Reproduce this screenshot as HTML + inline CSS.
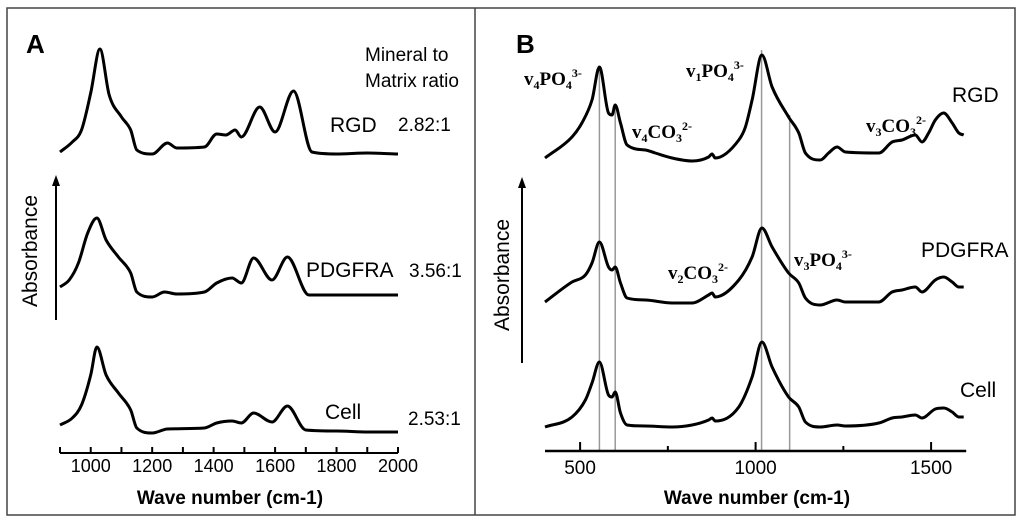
<!DOCTYPE html>
<html><head><meta charset="utf-8"><style>
body{margin:0;background:#fff;}
svg{display:block;font-family:"Liberation Sans",Arial,sans-serif;}
.ann{font-family:"Liberation Serif",serif;font-weight:bold;font-size:19px;}
</style></head><body>
<svg id="c" width="1024" height="527" viewBox="0 0 1024 527">
<rect x="7" y="8" width="1008" height="507" fill="none" stroke="#444" stroke-width="1.5"/>
<line x1="475" y1="8" x2="475" y2="515" stroke="#444" stroke-width="1.5"/>
<g id="gA">
<text x="26" y="53" font-size="26" font-weight="bold">A</text>
<text x="365" y="61" font-size="19">Mineral to</text>
<text x="365" y="87" font-size="19">Matrix ratio</text>
<text x="330" y="132" font-size="21">RGD</text>
<text x="398" y="131" font-size="19">2.82:1</text>
<text x="306" y="277" font-size="21">PDGFRA</text>
<text x="409" y="277" font-size="19">3.56:1</text>
<text x="325" y="419" font-size="21">Cell</text>
<text x="408" y="425" font-size="19">2.53:1</text>
<text transform="translate(37,251) rotate(-90)" text-anchor="middle" font-size="21">Absorbance</text>
<line x1="56" y1="320" x2="56" y2="184" stroke="#000" stroke-width="2"/>
<polygon points="56,175 52,186 60,186" fill="#000"/>
<text x="230" y="504" text-anchor="middle" font-size="19" font-weight="bold">Wave number (cm-1)</text>
</g>
<g id="gB">
<text x="516" y="53" font-size="26" font-weight="bold">B</text>
<text x="952" y="102" font-size="21">RGD</text>
<text x="921" y="257" font-size="21">PDGFRA</text>
<text x="960" y="397" font-size="21">Cell</text>
<text class="ann" x="524" y="85">v<tspan font-size="12" dy="4">4</tspan><tspan dy="-4">PO</tspan><tspan font-size="12" dy="4">4</tspan><tspan font-size="12" dy="-12">3-</tspan></text>
<text class="ann" x="686" y="77">v<tspan font-size="12" dy="4">1</tspan><tspan dy="-4">PO</tspan><tspan font-size="12" dy="4">4</tspan><tspan font-size="12" dy="-12">3-</tspan></text>
<text class="ann" x="632" y="138">v<tspan font-size="12" dy="4">4</tspan><tspan dy="-4">CO</tspan><tspan font-size="12" dy="4">3</tspan><tspan font-size="12" dy="-12">2-</tspan></text>
<text class="ann" x="866" y="132">v<tspan font-size="12" dy="4">3</tspan><tspan dy="-4">CO</tspan><tspan font-size="12" dy="4">3</tspan><tspan font-size="12" dy="-12">2-</tspan></text>
<text class="ann" x="668" y="279">v<tspan font-size="12" dy="4">2</tspan><tspan dy="-4">CO</tspan><tspan font-size="12" dy="4">3</tspan><tspan font-size="12" dy="-12">2-</tspan></text>
<text class="ann" x="794" y="266">v<tspan font-size="12" dy="4">3</tspan><tspan dy="-4">PO</tspan><tspan font-size="12" dy="4">4</tspan><tspan font-size="12" dy="-12">3-</tspan></text>
<text transform="translate(509,275) rotate(-90)" text-anchor="middle" font-size="21">Absorbance</text>
<line x1="522" y1="363" x2="522" y2="186" stroke="#000" stroke-width="2"/>
<polygon points="522,177 518,188 526,188" fill="#000"/>
<text x="757" y="504" text-anchor="middle" font-size="19" font-weight="bold">Wave number (cm-1)</text>
</g>
</svg>
<script>
// Panel A data
const aRgdW=[900,940,970,1000,1030,1060,1100,1130,1150,1200,1250,1280,1370,1410,1440,1470,1490,1550,1600,1660,1720,1800,1900,2000];
const aRgdV=[308,318,330,367,411,365,343,330,310,306,317,312,313,326,325,330,323,353,328,369,308,306,307,306];
const aPdgW=[900,930,960,990,1020,1050,1090,1130,1150,1200,1240,1280,1370,1410,1460,1490,1530,1590,1640,1710,1800,1900,2000];
const aPdgV=[173,180,197,227,242,220,203,187,168,163,168,166,168,177,182,177,202,180,203,165,165,165,165];
const aCellW=[900,940,970,1000,1020,1050,1090,1130,1150,1200,1250,1370,1410,1460,1490,1530,1590,1640,1700,1800,1900,2000];
const aCellV=[35,42,55,85,113,85,67,50,32,27,31,32,37,39,37,47,38,54,30,29,28,28];
const aTicks=[900,1000,1100,1200,1300,1400,1500,1600,1700,1800,1900,2000];
const aTickLabels=[1000,1200,1400,1600,1800,2000];
// Panel B data
const bRgdW=[400,477,505,534,555,581,591,600,615,634,686,714,762,819,866,876,885,952,971,990,1018,1047,1094,1123,1142,1184,1208,1232,1256,1351,1389,1417,1455,1474,1493,1512,1536,1560,1579,1593];
const bRgdV=[302,323,337,360,393,347,345,355,337,315,310,307,302,299,303,306,302,320,333,360,405,373,343,327,307,300,307,313,308,307,318,320,325,318,327,340,347,337,327,325];
const bW=[400,477,515,534,555,581,591,600,615,634,686,762,819,866,876,885,952,990,1018,1047,1094,1123,1142,1184,1232,1256,1351,1389,1417,1455,1474,1512,1536,1560,1579,1593];
const bPdgV=[158,178,185,197,218,193,190,193,177,162,160,157,157,165,167,163,180,203,232,213,187,177,162,155,160,158,158,168,170,173,168,180,183,178,173,173];
const bCellV=[33,43,60,77,98,65,63,68,47,35,34,33,35,40,42,39,53,83,118,93,63,53,38,33,35,34,37,42,43,45,42,51,52,48,43,43];
const bMajor=[500,1000,1500];
const bMinor=[750,1250];
const bRefLines=[555,600,1017,1097];
const bRefTops=[67,105,50,115];

const NS="http://www.w3.org/2000/svg";
const xA=w=>60+(w-900)*(338/1100);
const xB=w=>545+(w-400)*0.351;
const yS=v=>460-v;
// monotone cubic (Fritsch-Carlson) path
function smooth(pts){
  const n=pts.length,dx=[],m=[],t=[];
  for(let i=0;i<n-1;i++){dx[i]=pts[i+1][0]-pts[i][0];m[i]=(pts[i+1][1]-pts[i][1])/dx[i];}
  t[0]=m[0];t[n-1]=m[n-2];
  for(let i=1;i<n-1;i++){t[i]=(m[i-1]*m[i]<=0)?0:(m[i-1]+m[i])/2;}
  for(let i=0;i<n-1;i++){
    if(m[i]===0){t[i]=0;t[i+1]=0;continue;}
    const a=t[i]/m[i],b=t[i+1]/m[i],s=a*a+b*b;
    if(s>9){const k=3/Math.sqrt(s);t[i]=k*a*m[i];t[i+1]=k*b*m[i];}
  }
  let d="M"+pts[0][0].toFixed(1)+","+pts[0][1].toFixed(1);
  for(let i=0;i<n-1;i++){
    const h=dx[i]/3;
    d+="C"+(pts[i][0]+h).toFixed(1)+","+(pts[i][1]+t[i]*h).toFixed(1)+" "+(pts[i+1][0]-h).toFixed(1)+","+(pts[i+1][1]-t[i+1]*h).toFixed(1)+" "+pts[i+1][0].toFixed(1)+","+pts[i+1][1].toFixed(1);
  }
  return d;
}
function mk(tag,attrs,parent){const e=document.createElementNS(NS,tag);for(const k in attrs)e.setAttribute(k,attrs[k]);parent.appendChild(e);return e;}
const gA=document.getElementById('gA'), gB=document.getElementById('gB');
function spectrum(g,ws,vs,xf,name){
  const p=mk('path',{d:smooth(ws.map((w,i)=>[xf(w),yS(vs[i])])),fill:'none',stroke:'#000','stroke-width':3,'stroke-linejoin':'round'},g);
  
  
}
bRefLines.forEach((w,i)=>{
  const l=mk('line',{x1:xB(w),x2:xB(w),y1:bRefTops[i],y2:451,stroke:'#999','stroke-width':1.5},gB);
  
  
});
spectrum(gA,aRgdW,aRgdV,xA,'spectrum-rgd-a');
spectrum(gA,aPdgW,aPdgV,xA,'spectrum-pdgfra-a');
spectrum(gA,aCellW,aCellV,xA,'spectrum-cell-a');
spectrum(gB,bRgdW,bRgdV,xB,'spectrum-rgd-b');
spectrum(gB,bW,bPdgV,xB,'spectrum-pdgfra-b');
spectrum(gB,bW,bCellV,xB,'spectrum-cell-b');
let ax=mk('line',{x1:xA(900),x2:xA(2000),y1:453,y2:453,stroke:'#000','stroke-width':2},gA);


aTicks.forEach(w=>{
  const t=mk('line',{x1:xA(w),x2:xA(w),y1:453,y2:447,stroke:'#000','stroke-width':2},gA);
  
  
});
aTickLabels.forEach(w=>{
  const t=mk('text',{x:xA(w),y:472,'text-anchor':'middle','font-size':18},gA);
  t.textContent=w;
  
  
});
ax=mk('line',{x1:xB(400),x2:xB(1600),y1:451,y2:451,stroke:'#000','stroke-width':2.5},gB);


bMajor.forEach(w=>{
  const t=mk('line',{x1:xB(w),x2:xB(w),y1:451,y2:442,stroke:'#000','stroke-width':2},gB);
  
  
  const l=mk('text',{x:xB(w),y:474,'text-anchor':'middle','font-size':19},gB);
  l.textContent=w;
  
  
});
bMinor.forEach(w=>{
  const t=mk('line',{x1:xB(w),x2:xB(w),y1:451,y2:446,stroke:'#000','stroke-width':2},gB);
  
  
});
</script>
</body></html>
